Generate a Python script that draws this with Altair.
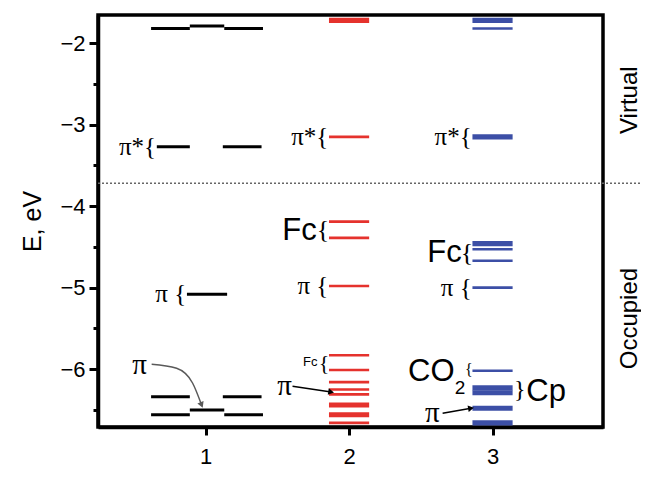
import math
import altair as alt
import pandas as pd

# ---------------- data ----------------
# Column 1 (black): split levels (left / middle / right fragments)
c1_energy = [-1.82, -1.79, -1.82, -3.27, -3.27, -5.08, -6.34, -6.34, -6.56, -6.50, -6.56]
c1_start = [0.62, 0.89, 1.13, 0.66, 1.12, 0.87, 0.62, 1.12, 0.62, 0.89, 1.13]
c1_end = [0.89, 1.13, 1.40, 0.89, 1.39, 1.15, 0.89, 1.39, 0.89, 1.13, 1.40]

# Column 2 (red) levels and their multiplicity (drawn thicker)
c2_energy = [-1.72, -3.15, -4.19, -4.39, -4.98, -5.83, -6.01, -6.16, -6.25, -6.31, -6.44, -6.56, -6.66]
c2_weight = [2, 1, 1, 1, 1, 1, 1, 1, 1, 1, 2, 2, 1]

# Column 3 (blue)
c3_energy = [-1.72, -1.82, -3.15, -4.46, -4.53, -4.67, -5.00, -6.02, -6.23, -6.29, -6.48, -6.66]
c3_weight = [2, 1, 2, 2, 1, 1, 1, 1, 2, 2, 2, 2]

columns = [1, 2, 3]
half_width = 0.14
homo_lumo_gap_line = -3.72

# labels: pi-type (serif) with braces, right aligned
pi_text = ["π*{", "π {", "π*{", "π {", "π*{", "π {"]
pi_x = [0.655, 0.865, 1.855, 1.855, 2.855, 2.855]
pi_y = [-3.27, -5.08, -3.15, -4.98, -3.15, -5.00]

# pi labels with arrows (serif, centred)
api_x = [0.54, 1.55, 2.58]
api_y = [-5.95, -6.21, -6.54]

# sans labels, right aligned
sr_text = ["Fc", "Fc", "Fc", "CO"]
sr_x = [1.775, 1.78, 2.785, 2.735]
sr_y = [-4.30, -5.91, -4.58, -6.03]
sr_size = [31, 13, 31, 31]

# sans labels, left aligned
sl_text = ["2", "Cp"]
sl_x = [2.737, 3.235]
sl_y = [-6.23, -6.28]
sl_size = [19, 31]

# braces (serif)
br_text = ["{", "{", "{", "{", "}"]
br_x = [1.862, 1.862, 2.865, 2.862, 3.15]
br_y = [-4.29, -5.92, -4.57, -6.01, -6.26]
br_size = [26, 22, 26, 16, 24]
br_align = ["right", "right", "right", "right", "left"]

# arrows
arrow_id = [1, 1, 1, 1, 2, 2, 3, 3]
arrow_x = [0.624, 0.798, 0.909, 0.972, 1.606, 1.875, 2.652, 2.85]
arrow_y = [-5.94, -5.99, -6.17, -6.44, -6.21, -6.28, -6.54, -6.48]
arrow_color = ["#5a5a5a", "#000000", "#000000"]

side_text = ["Virtual", "Occupied"]
side_x = [3.955, 3.955]
side_y = [-2.70, -5.38]

# ---------------- layout ----------------
X_DOMAIN = [0.25, 3.77]
Y_DOMAIN = [-6.71, -1.655]
W, H = 505, 412
SANS = "Liberation Sans"
SERIF = "Liberation Serif"
RED = "#e5322d"
BLUE = "#3c4fa6"

xs = alt.Scale(domain=X_DOMAIN, nice=False, zero=False)
ys = alt.Scale(domain=Y_DOMAIN, nice=False, zero=False)


def X(f, **kw):
    return alt.X(f, type="quantitative", scale=xs, **kw)


def Y(f, **kw):
    return alt.Y(f, type="quantitative", scale=ys, **kw)


rows = []
for e, a, b in zip(c1_energy, c1_start, c1_end):
    rows.append(dict(x=a, x2=b, y=e, w=3, c="black"))
for e, wgt in zip(c2_energy, c2_weight):
    rows.append(dict(x=columns[1] - half_width, x2=columns[1] + half_width, y=e, w=2.6 * wgt, c=RED))
for e, wgt in zip(c3_energy, c3_weight):
    rows.append(dict(x=columns[2] - half_width, x2=columns[2] + half_width, y=e, w=2.6 * wgt, c=BLUE))
levels_df = pd.DataFrame(rows)

x_axis = alt.Axis(values=columns, format="d", title=None, grid=False,
                  tickSize=8, tickWidth=3, tickColor="black",
                  domainColor="black", domainWidth=3.5,
                  labelFont=SANS, labelFontSize=22, labelColor="black",
                  labelPadding=11)
y_axis = alt.Axis(values=[-6.5, -6, -5.5, -5, -4.5, -4, -3.5, -3, -2.5, -2],
                  labelExpr="datum.value % 1 === 0 ? format(datum.value, 'd') : ''",
                  labelOverlap=False, grid=False, title="E, eV",
                  tickSize={"condition": {"test": "datum.value % 1 === 0", "value": 9}, "value": 5},
                  tickWidth=3, tickColor="black",
                  domainColor="black", domainWidth=3.5,
                  labelFont=SANS, labelFontSize=22, labelColor="black", labelPadding=4,
                  titleFont=SANS, titleFontSize=25, titleFontWeight="normal",
                  titleColor="black", titlePadding=14)

levels = alt.Chart(levels_df).mark_rule().encode(
    x=X("x", axis=x_axis),
    x2="x2",
    y=Y("y", axis=y_axis),
    color=alt.Color("c:N", scale=None),
    strokeWidth=alt.StrokeWidth("w:Q", scale=None),
)

gap = alt.Chart(pd.DataFrame({"y": [homo_lumo_gap_line], "x": [X_DOMAIN[0]], "x2": [4.07]})).mark_rule(
    color="#666666", strokeDash=[2, 2], strokeWidth=1.5
).encode(x=X("x"), x2="x2", y=Y("y"))

pi_df = pd.DataFrame({"t": pi_text, "x": pi_x, "y": pi_y})
pi_layer = alt.Chart(pi_df).mark_text(font=SERIF, fontSize=25, align="right", baseline="middle",
                                      color="black").encode(x=X("x"), y=Y("y"), text="t:N")

api_df = pd.DataFrame({"t": ["π"] * 3, "x": api_x, "y": api_y})
api_layer = alt.Chart(api_df).mark_text(font=SERIF, fontSize=29, align="center", baseline="middle",
                                        color="black").encode(x=X("x"), y=Y("y"), text="t:N")

sr_df = pd.DataFrame({"t": sr_text, "x": sr_x, "y": sr_y, "s": sr_size})
sr_layer = alt.Chart(sr_df).mark_text(font=SANS, align="right", baseline="middle", color="black").encode(
    x=X("x"), y=Y("y"), text="t:N", size=alt.Size("s:Q", scale=None))

sl_df = pd.DataFrame({"t": sl_text, "x": sl_x, "y": sl_y, "s": sl_size})
sl_layer = alt.Chart(sl_df).mark_text(font=SANS, align="left", baseline="middle", color="black").encode(
    x=X("x"), y=Y("y"), text="t:N", size=alt.Size("s:Q", scale=None))

br_df = pd.DataFrame({"t": br_text, "x": br_x, "y": br_y, "s": br_size, "a": br_align})
br_r = alt.Chart(br_df[br_df.a == "right"]).mark_text(font=SERIF, align="right", baseline="middle",
                                                     color="black").encode(
    x=X("x"), y=Y("y"), text="t:N", size=alt.Size("s:Q", scale=None))
br_l = alt.Chart(br_df[br_df.a == "left"]).mark_text(font=SERIF, align="left", baseline="middle",
                                                    color="black").encode(
    x=X("x"), y=Y("y"), text="t:N", size=alt.Size("s:Q", scale=None))

arrow_df = pd.DataFrame({"id": arrow_id, "x": arrow_x, "y": arrow_y, "o": list(range(len(arrow_id)))})
arrow_df["c"] = [arrow_color[i - 1] for i in arrow_id]
arrow_lines = alt.Chart(arrow_df).mark_line(interpolate="monotone", strokeWidth=1.5).encode(
    x=X("x"), y=Y("y"), detail="id:N", order="o:Q", color=alt.Color("c:N", scale=None))

# arrow heads: orientation from last segment of each arrow, in pixel space
px_per_x = W / (X_DOMAIN[1] - X_DOMAIN[0])
px_per_y = H / (Y_DOMAIN[1] - Y_DOMAIN[0])
heads = []
for aid in sorted(set(arrow_id)):
    pts = arrow_df[arrow_df.id == aid]
    (x0, y0), (x1, y1) = pts[["x", "y"]].values[-2:]
    dx = (x1 - x0) * px_per_x
    dy = -(y1 - y0) * px_per_y
    ang = math.degrees(math.atan2(dx, -dy)) % 360
    heads.append(dict(x=x1, y=y1, a=ang, c=arrow_color[aid - 1]))
heads_df = pd.DataFrame(heads)
arrow_heads = alt.Chart(heads_df).mark_point(shape="triangle-up", filled=True, size=45, opacity=1).encode(
    x=X("x"), y=Y("y"), angle=alt.Angle("a:Q", scale=None), color=alt.Color("c:N", scale=None))

side_df = pd.DataFrame({"t": side_text, "x": side_x, "y": side_y})
side_layer = alt.Chart(side_df).mark_text(font=SANS, fontSize=24, angle=270, align="center",
                                          baseline="middle", color="black").encode(
    x=X("x"), y=Y("y"), text="t:N")

chart = alt.layer(
    gap, levels, arrow_lines, arrow_heads, pi_layer, api_layer, sr_layer, sl_layer, br_r, br_l, side_layer
).properties(
    width=W, height=H,
    background="white",
    autosize=alt.AutoSizeParams(type="none"),
    padding={"left": 90, "top": 7, "right": 38, "bottom": 42},
).configure_view(stroke="black", strokeWidth=3.5)

chart.save("out.html", embed_options={"renderer": "svg", "actions": False})
